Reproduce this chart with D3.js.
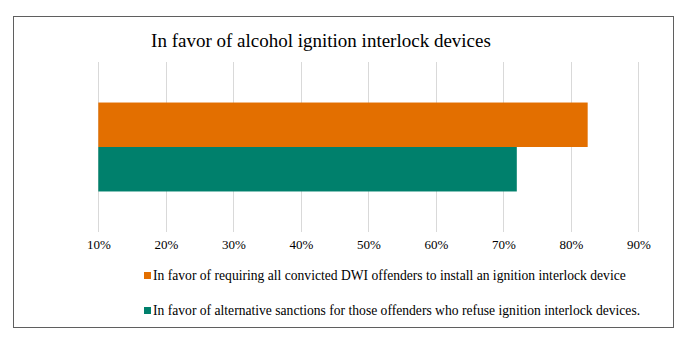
<!DOCTYPE html>
<html>
<head>
<meta charset="utf-8">
<script src="https://cdn.jsdelivr.net/npm/d3@7"></script>
<style>
  body { margin: 0; background: #fff; }
  svg text { font-family: 'Liberation Serif'; }
</style>
</head>
<body>
<div id="chart"></div>
<script>
const categories = ['In favor of alcohol ignition interlock devices'];
const seriesNames = [
  'In favor of requiring all convicted DWI offenders to install an ignition interlock device',
  'In favor of alternative sanctions for those offenders who refuse ignition interlock devices.'
];
const seriesValues = [0.825, 0.72];
const seriesColors = ['#E36F00', '#00806C'];
const tickValues = [0.1, 0.2, 0.3, 0.4, 0.5, 0.6, 0.7, 0.8, 0.9];

const width = 685, height = 350;
const svg = d3.select('#chart').append('svg')
  .attr('width', width)
  .attr('height', height);

// chart frame
svg.append('rect')
  .attr('x', 13.5).attr('y', 16.5)
  .attr('width', 660).attr('height', 311)
  .attr('fill', '#fff')
  .attr('stroke', '#5f5f5f')
  .attr('stroke-width', 1);

svg.append('text')
  .attr('x', 321).attr('y', 47)
  .attr('text-anchor', 'middle')
  .style('font-size', '19px')
  .text(categories[0]);

const plot = { left: 98.3, right: 638.3, top: 62, bottom: 232 };

const x = d3.scaleLinear().domain([0.1, 0.9]).range([plot.left, plot.right]);
const y = d3.scaleBand().domain(categories).range([plot.top, plot.bottom]).padding(0.313);
const ys = d3.scaleBand().domain(seriesNames).range([0, y.bandwidth()]);

// gridlines
svg.append('g').selectAll('line')
  .data(tickValues)
  .join('line')
  .attr('x1', d => Math.round(x(d)) + 0.5)
  .attr('x2', d => Math.round(x(d)) + 0.5)
  .attr('y1', plot.top).attr('y2', plot.bottom)
  .attr('stroke', '#d9d9d9')
  .attr('stroke-width', 1);

// bars
svg.append('g').selectAll('rect')
  .data(seriesNames.map((s, i) => ({ s, v: seriesValues[i], c: seriesColors[i] })))
  .join('rect')
  .attr('x', x(0.1))
  .attr('y', d => y(categories[0]) + ys(d.s))
  .attr('width', d => x(d.v) - x(0.1))
  .attr('height', ys.bandwidth())
  .attr('fill', d => d.c);

// axis labels
const axis = d3.axisBottom(x).tickValues(tickValues).tickFormat(d3.format('.0%')).tickSize(0).tickPadding(0);
const ax = svg.append('g').attr('transform', `translate(0,${plot.bottom + 8})`).call(axis);
ax.select('.domain').remove();
ax.selectAll('text')
  .attr('dy', '0.71em')
  .style('font-size', '13px')
  .attr('fill', '#000');

// legend
const legend = svg.append('g');
seriesNames.forEach((s, i) => {
  const g = legend.append('g').attr('transform', `translate(144, ${272 + i * 35})`);
  g.append('rect').attr('width', 7).attr('height', 7).attr('fill', seriesColors[i]);
  g.append('text').attr('x', 9).attr('y', 7.5).style('font-size', '13.6px').attr('fill', '#000').text(s);
});
</script>
</body>
</html>
